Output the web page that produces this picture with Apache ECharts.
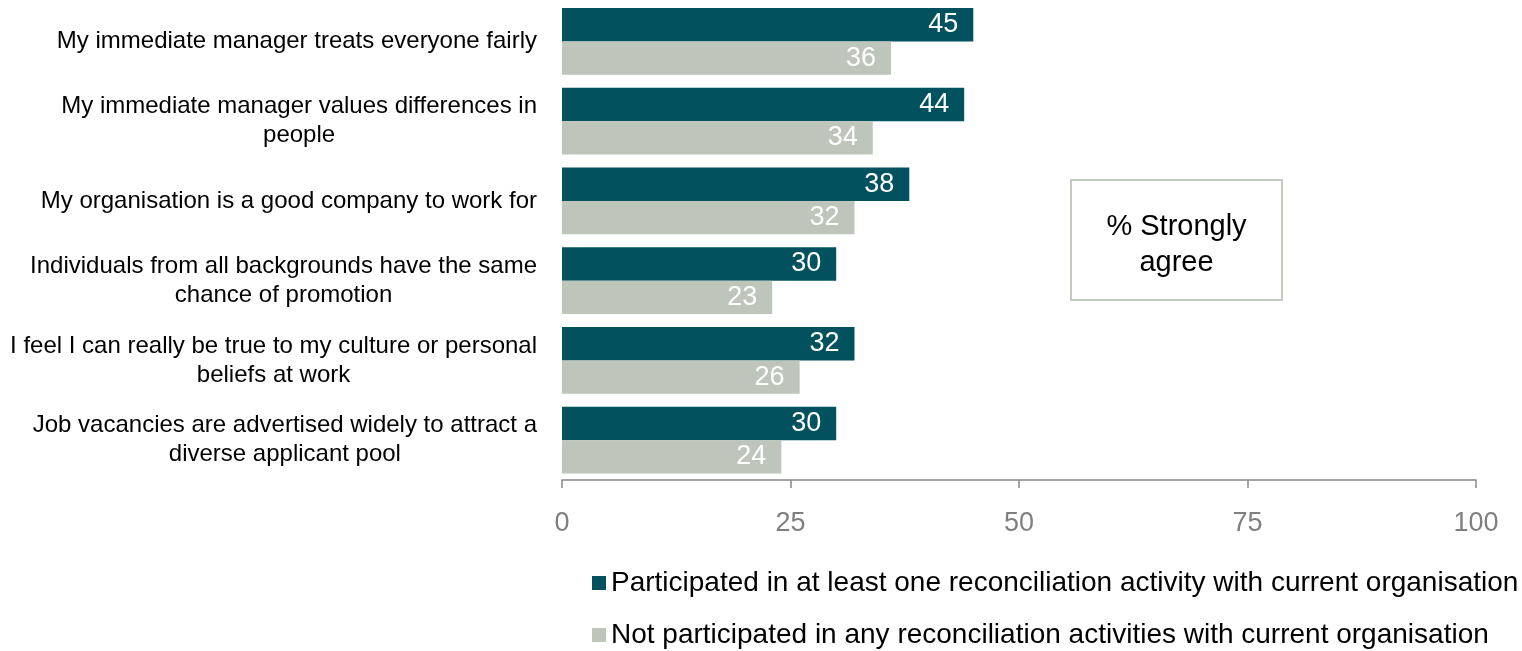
<!DOCTYPE html>
<html>
<head>
<meta charset="utf-8">
<script src="https://cdn.jsdelivr.net/npm/echarts@6/dist/echarts.min.js"></script>
<style>
  html, body { margin: 0; padding: 0; background: #ffffff; }
  #chart { width: 1522px; height: 651px; }
</style>
</head>
<body>
<div id="chart"></div>
<script>
// Survey statements (top to bottom)
const categories = [
  'My immediate manager treats everyone fairly',
  'My immediate manager values differences in\npeople',
  'My organisation is a good company to work for',
  'Individuals from all backgrounds have the same\nchance of promotion',
  'I feel I can really be true to my culture or personal\nbeliefs at work',
  'Job vacancies are advertised widely to attract a\ndiverse applicant pool'
];

const seriesNames = [
  'Participated in at least one reconciliation activity with current organisation',
  'Not participated in any reconciliation activities with current organisation'
];

// % strongly agree
const participated = [45, 44, 38, 30, 32, 30];
const notParticipated = [36, 34, 32, 23, 26, 24];

const xTicks = [0, 25, 50, 75, 100];

const FONT = 'Liberation Sans, Arial, sans-serif';
const DARK = '#01525e';
const LIGHT = '#bec6bb';

const chart = echarts.init(document.getElementById('chart'), null, { renderer: 'canvas' });

const barLabel = {
  show: true,
  position: 'insideRight',
  distance: 15,
  color: '#ffffff',
  fontFamily: FONT,
  fontSize: 27
};

// one legend block per series, stacked vertically
function legendFor(name, top) {
  return {
    left: 592,
    top: top,
    padding: 0,
    itemWidth: 14,
    itemHeight: 14,
    itemGap: 0,
    icon: 'rect',
    textStyle: { color: '#000000', fontFamily: FONT, fontSize: 28 },
    data: [name]
  };
}

chart.setOption({
  animation: false,
  backgroundColor: '#ffffff',
  grid: { left: 562, right: 46, top: 1.5, bottom: 171, containLabel: false },
  xAxis: {
    type: 'value',
    min: xTicks[0],
    max: xTicks[xTicks.length - 1],
    interval: xTicks[1] - xTicks[0],
    axisLine: { show: true, lineStyle: { color: '#888888', width: 1.5 } },
    axisTick: { show: true, length: 8, lineStyle: { color: '#888888', width: 1.5 } },
    splitLine: { show: false },
    axisLabel: { color: '#7f7f7f', fontFamily: FONT, fontSize: 27, margin: 30 }
  },
  yAxis: {
    type: 'category',
    inverse: true,
    data: categories,
    axisLine: { show: false },
    axisTick: { show: false },
    axisLabel: {
      margin: 25,
      align: 'right',
      formatter: function (v) {
        return v.split('\n').map(function (s) { return '{c|' + s + '}'; }).join('\n');
      },
      rich: {
        c: { align: 'center', color: '#000000', fontFamily: FONT, fontSize: 24, lineHeight: 29 }
      }
    }
  },
  legend: [
    legendFor(seriesNames[0], 569),
    legendFor(seriesNames[1], 621)
  ],
  series: [
    {
      name: seriesNames[0],
      type: 'bar',
      data: participated,
      itemStyle: { color: DARK },
      barGap: '0%',
      barCategoryGap: '16%',
      label: barLabel
    },
    {
      name: seriesNames[1],
      type: 'bar',
      data: notParticipated,
      itemStyle: { color: LIGHT },
      barGap: '0%',
      barCategoryGap: '16%',
      label: barLabel
    }
  ],
  graphic: [
    {
      type: 'rect',
      shape: { x: 1071, y: 180, width: 211, height: 120 },
      style: { fill: '#ffffff', stroke: '#c3cabf', lineWidth: 2 }
    },
    {
      type: 'text',
      style: {
        x: 1176.5,
        y: 245,
        text: '% Strongly\nagree',
        align: 'center',
        verticalAlign: 'middle',
        fill: '#000000',
        fontFamily: FONT,
        fontSize: 29,
        lineHeight: 36
      }
    }
  ]
});
</script>
</body>
</html>
